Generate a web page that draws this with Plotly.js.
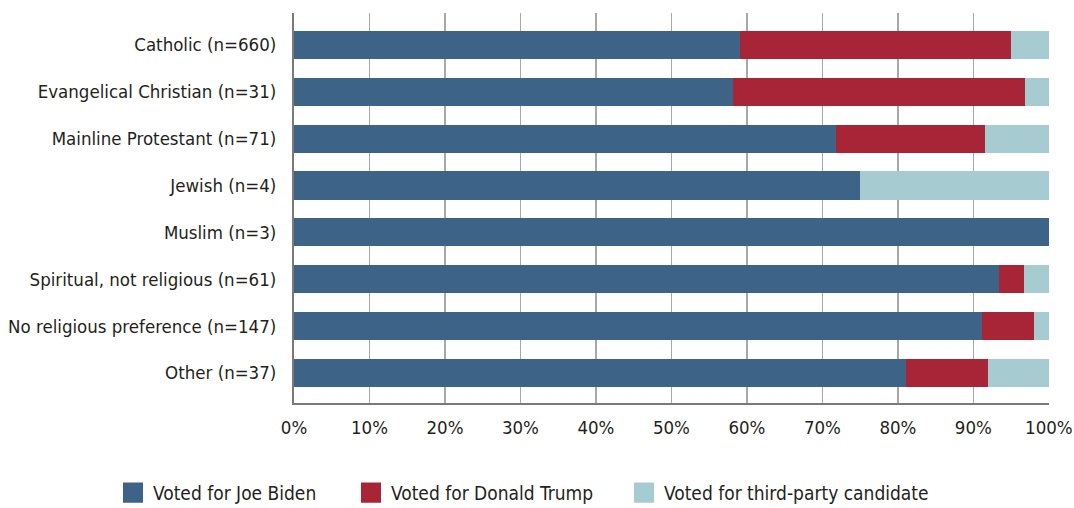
<!DOCTYPE html>
<html>
<head>
<meta charset="utf-8">
<script src="https://cdn.plot.ly/plotly-3.0.1.min.js"></script>
<style>
html,body{margin:0;padding:0;background:#fff;}
#chart{width:1074px;height:508px;}
#chart .legendpoints path{transform:translate(20px,0) scale(1.67);}
</style>
</head>
<body>
<div id="chart"></div>
<script>
var categories = [
  "Catholic (n=660)",
  "Evangelical Christian (n=31)",
  "Mainline Protestant (n=71)",
  "Jewish (n=4)",
  "Muslim (n=3)",
  "Spiritual, not religious (n=61)",
  "No religious preference (n=147)",
  "Other (n=37)"
];
var biden = [59.1, 58.1, 71.8, 75.0, 100.0, 93.4, 91.2, 81.1];
var trump = [35.9, 38.7, 19.7, 0.0, 0.0, 3.3, 6.8, 10.8];
var third = [5.0, 3.2, 8.5, 25.0, 0.0, 3.3, 2.0, 8.1];
var seriesNames = ["Voted for Joe Biden", "Voted for Donald Trump", "Voted for third-party candidate"];
var xTickVals = [0, 10, 20, 30, 40, 50, 60, 70, 80, 90, 100];
var xTickText = ["0%", "10%", "20%", "30%", "40%", "50%", "60%", "70%", "80%", "90%", "100%"];

var FONT = "'DejaVu Sans Condensed', 'Liberation Sans Narrow', sans-serif";
var colors = ["#3d6387", "#a82538", "#a6cbd1"];
var seriesData = [biden, trump, third];
var legendIds = ["legend", "legend2", "legend3"];
var legendX = [113, 351, 624];

var traces = seriesData.map(function (vals, i) {
  return {
    type: "bar",
    orientation: "h",
    y: categories,
    x: vals,
    name: seriesNames[i],
    legend: legendIds[i],
    marker: { color: colors[i], line: { width: 0 } },
    width: 0.6,
    hoverinfo: "x+y+name"
  };
});

var legendFont = { family: FONT, size: 19, color: "#231f20" };
function mkLegend(px) {
  return {
    orientation: "h",
    xref: "container",
    yref: "container",
    x: px / 1074,
    xanchor: "left",
    y: 0.03,
    yanchor: "middle",
    font: legendFont,
    bgcolor: "rgba(0,0,0,0)",
    borderwidth: 0
  };
}

var layout = {
  width: 1074,
  height: 508,
  barmode: "stack",
  paper_bgcolor: "#ffffff",
  plot_bgcolor: "#ffffff",
  margin: { l: 294, r: 25, t: 13, b: 105, pad: 0 },
  font: { family: FONT, size: 18.5, color: "#231f20" },
  xaxis: {
    range: [0, 100.02],
    tickvals: xTickVals,
    ticktext: xTickText,
    showgrid: true,
    gridcolor: "#a8a8a8",
    gridwidth: 1.5,
    zeroline: false,
    showline: true,
    linecolor: "#7a7a7a",
    linewidth: 2,
    ticks: "",
    ticklabelstandoff: 7,
    ticklabeloverflow: "allow",
    tickfont: { family: FONT, size: 18.5, color: "#231f20" },
    fixedrange: true
  },
  yaxis: {
    type: "category",
    categoryorder: "array",
    categoryarray: categories,
    range: [7.64, -0.68],
    showgrid: false,
    zeroline: false,
    showline: true,
    linecolor: "#7a7a7a",
    linewidth: 2,
    ticks: "",
    ticklabelstandoff: 12,
    tickfont: { family: FONT, size: 18.5, color: "#231f20" },
    fixedrange: true
  },
  showlegend: true,
  legend: mkLegend(legendX[0]),
  legend2: mkLegend(legendX[1]),
  legend3: mkLegend(legendX[2])
};

Plotly.newPlot("chart", traces, layout, { displayModeBar: false, staticPlot: true });
</script>
</body>
</html>
